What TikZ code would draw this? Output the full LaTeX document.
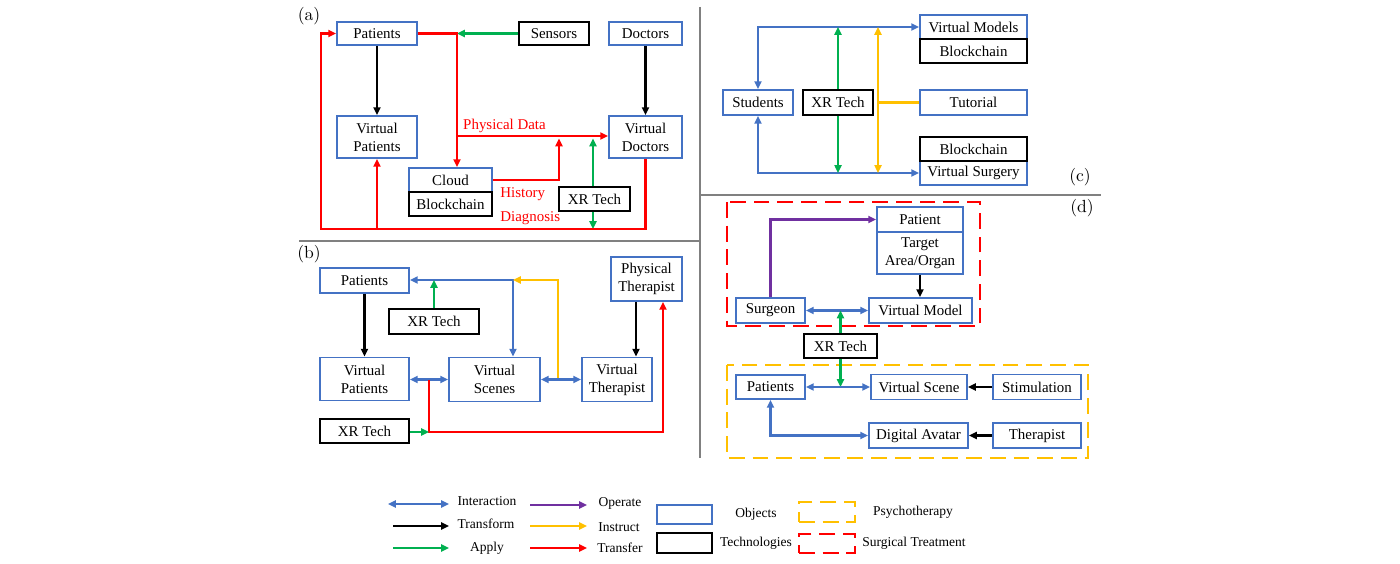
\documentclass[tikz,border=0pt]{standalone}
\usepackage{fontspec}
\setmainfont{Liberation Serif}
\usetikzlibrary{arrows.meta}
\definecolor{objBlue}{RGB}{68,114,196}
\definecolor{applyGreen}{RGB}{0,176,80}
\definecolor{instructYellow}{RGB}{255,192,0}
\definecolor{operatePurple}{RGB}{112,48,160}
\definecolor{transferRed}{RGB}{255,0,0}
\newcommand{\pxUnit}[0]{0.02cm}
\newcommand{\boxWidth}[0]{0.95pt}
\newcommand{\techWidth}[0]{1.3pt}
\newcommand{\flowWidth}[0]{1.2pt}
\newcommand{\panelTag}[1]{{\fontfamily{lmr}\fontsize{10}{12}\selectfont(#1)}}

\begin{document}
\begin{tikzpicture}[x=\pxUnit, y=-\pxUnit, font=\fontsize{8.5}{10.3}\selectfont]
  \tikzset{
    box/.style 2 args={minimum width=#1*\pxUnit, minimum height=#2*\pxUnit, inner sep=0pt, align=center},
    object/.style={draw=objBlue, line width=\boxWidth, fill=white},
    technology/.style={draw=black, line width=\techWidth, fill=white},
    flow/.style={line width=\flowWidth, >={Triangle[length=4.5pt, width=4pt]}},
    interaction/.style={flow, objBlue},
    transformation/.style={flow, black},
    application/.style={flow, applyGreen},
    instruction/.style={flow, instructYellow},
    operation/.style={flow, operatePurple},
    transfer/.style={flow, transferRed},
    note/.style={text=transferRed, inner sep=0pt},
    keyText/.style={font=\fontsize{7.7}{9}\selectfont},
    divider/.style={gray, line width=0.6pt},
    surgeryFrame/.style={draw=transferRed, line width=1.2pt, dash pattern=on 9pt off 4.5pt},
    psychoFrame/.style={draw=instructYellow, line width=1.2pt, dash pattern=on 9pt off 4.5pt}
  }
  \fill[white] (0,0) rectangle (1400,564);
  \useasboundingbox (0,0) rectangle (1400,564);

  \draw[divider] (700,7) -- (700,458);
  \draw[divider] (299,241) -- (700,241);
  \draw[divider] (700,195) -- (1101,195);

  % (a)
  \node (tag-a) at (309,16) {\panelTag{a}};
  \node[object, box={80}{23}] (Patients-a) at (377,33.5) {Patients};
  \node[technology, box={70}{23}] (Sensors-a) at (554,33.5) {Sensors};
  \node[object, box={73}{23}] (Doctors-a) at (645.5,33.5) {Doctors};
  \node[object, box={80}{42}] (VPatients-a) at (377,137) {Virtual\\Patients};
  \node[object, box={73}{42}] (VDoctors-a) at (645.5,137) {Virtual\\Doctors};
  \node[object, box={83}{24}] (Cloud-a) at (450.5,180) {Cloud};
  \node[technology, box={83}{24}] (Blockchain-a) at (450.5,204) {Blockchain};
  \node[technology, box={71}{24}] (XR-a) at (594.5,199) {XR Tech};
  \coordinate (split-a) at (457,33.5);
  \coordinate (data-a) at (457,136);
  \coordinate (history-a) at (559,138.5);
  \coordinate (xrUp-a) at (593,138.5);
  \coordinate (xrDown-a) at (593,229);
  \coordinate (loop-a) at (321,229);
  \draw[transformation, ->] (Patients-a) -- (VPatients-a);
  \draw[transformation, ->] (Doctors-a) -- (VDoctors-a);
  \draw[application, ->] (Sensors-a) -- (split-a);
  \draw[transfer, ->] (Patients-a.east) -- (split-a) -- (split-a |- Cloud-a.north);
  \draw[transfer, ->] (data-a) -- (data-a -| VDoctors-a.west);
  \draw[transfer, ->] (Cloud-a.east) -| (history-a);
  \draw[application, ->] (XR-a.north -| xrUp-a) -- (xrUp-a);
  \draw[application, ->] (XR-a.south -| xrDown-a) -- (xrDown-a);
  \draw[transfer, ->] (VDoctors-a.south) |- (loop-a) |- (Patients-a.west);
  \draw[transfer, ->] (VPatients-a.south |- loop-a) -- (VPatients-a.south);
  \node[note] (data-label-a) at (504.5,126) {Physical Data};
  \node[note, anchor=west] (history-label-a) at (500,194) {History};
  \node[note, anchor=west] (diagnosis-label-a) at (500,218) {Diagnosis};

  % (b)
  \node (tag-b) at (309,254) {\panelTag{b}};
  \node[object, box={89}{25}] (Patients-b) at (364.5,280.5) {Patients};
  \node[technology, box={90}{25}] (XR1-b) at (434,321.5) {XR Tech};
  \node[object, box={71}{44}] (PTherapist-b) at (646.5,279) {Physical\\Therapist};
  \node[object, box={89}{43}] (VPatients-b) at (364.5,379) {Virtual\\Patients};
  \node[object, box={91}{44}] (VScenes-b) at (494.5,379.5) {Virtual\\Scenes};
  \node[object, box={70}{44}] (VTherapist-b) at (617,379.5) {Virtual\\Therapist};
  \node[technology, box={89}{24}] (XR2-b) at (364.5,431) {XR Tech};
  \coordinate (hub-b) at (513,280);
  \coordinate (instruct-b) at (558,379.5);
  \coordinate (tap-b) at (429,379.5);
  \coordinate (corner-b) at (663,432);
  \coordinate (drop-b) at (636,0);
  \draw[transformation, ->] (Patients-b) -- (VPatients-b);
  \draw[transformation, ->] (PTherapist-b.south -| drop-b) -- (VTherapist-b.north -| drop-b);
  \draw[interaction, <->] (Patients-b.east |- hub-b) -- (hub-b) -- (hub-b |- VScenes-b.north);
  \draw[application, ->] (XR1-b.north) -- (XR1-b.north |- hub-b);
  \draw[instruction, ->] (instruct-b) |- (hub-b);
  \draw[interaction, <->] (VPatients-b.east |- tap-b) -- (VScenes-b.west);
  \draw[interaction, <->] (VScenes-b.east) -- (VTherapist-b.west);
  \draw[transfer, ->] (tap-b) |- (corner-b) -- (PTherapist-b.south -| corner-b);
  \draw[application, ->] (XR2-b.east |- corner-b) -- (corner-b -| tap-b);

  % (c)
  \node (tag-c) at (1080,177) {\panelTag{c}};
  \node[object, box={107}{24}] (VModels-c) at (973.5,27) {Virtual Models};
  \node[technology, box={107}{24}] (Blockchain1-c) at (973.5,51) {Blockchain};
  \node[object, box={70}{25}] (Students-c) at (758,102.5) {Students};
  \node[technology, box={70}{25}] (XR-c) at (838,102.5) {XR Tech};
  \node[object, box={107}{25}] (Tutorial-c) at (973.5,102.5) {Tutorial};
  \node[object, box={107}{24}] (VSurgery-c) at (973.5,173) {Virtual Surgery};
  \node[technology, box={107}{24}] (Blockchain2-c) at (973.5,149) {Blockchain};
  \coordinate (instruct-c) at (878,0);
  \draw[interaction, <->] (Students-c.north) |- (VModels-c.west);
  \draw[interaction, <->] (Students-c.south) |- (VSurgery-c.west);
  \draw[application, ->] (XR-c.north) -- (XR-c.north |- VModels-c.west);
  \draw[application, ->] (XR-c.south) -- (XR-c.south |- VSurgery-c.west);
  \draw[instruction, <->] (instruct-c |- VModels-c.west) -- (instruct-c |- VSurgery-c.west);
  \draw[instruction] (instruct-c |- Tutorial-c.west) -- (Tutorial-c.west);

  % (d)
  \node (tag-d) at (1082,208) {\panelTag{d}};
  \draw[surgeryFrame] (727,202) rectangle (980,326);
  \draw[psychoFrame] (727,365) rectangle (1088,458);
  \node[object, box={86}{25}] (Patient-d) at (920,219.5) {Patient};
  \node[object, box={86}{42}] (Target-d) at (920,253) {Target\\Area/Organ};
  \node[object, box={69}{25}] (Surgeon-d) at (770.5,310.5) {Surgeon};
  \node[object, box={103}{25}] (VModel-d) at (920.5,310.5) {Virtual Model};
  \node[technology, box={73}{24}] (XR-d) at (840.5,346) {XR Tech};
  \node[object, box={69}{24}] (Patients-d) at (770.5,387) {Patients};
  \node[object, box={96}{25}] (VScene-d) at (919,387) {Virtual Scene};
  \node[object, box={88}{25}] (Stimulation-d) at (1037,387) {Stimulation};
  \node[object, box={99}{25}] (Avatar-d) at (918.5,435.5) {Digital Avatar};
  \node[object, box={88}{25}] (Therapist-d) at (1037,435.5) {Therapist};
  \draw[operation, ->] (Surgeon-d.north) |- (Patient-d.west);
  \draw[transformation, ->] (Target-d.south) -- (Target-d.south |- VModel-d.north);
  \draw[interaction, <->] (Surgeon-d.east) -- (VModel-d.west);
  \draw[application, ->] (XR-d.north) -- (XR-d.north |- Surgeon-d.east);
  \draw[application, ->] (XR-d.south) -- (XR-d.south |- Patients-d.east);
  \draw[interaction, <->] (Patients-d.east) -- (VScene-d.west);
  \draw[transformation, ->] (Stimulation-d) -- (VScene-d);
  \draw[transformation, ->] (Therapist-d) -- (Avatar-d);
  \draw[interaction, <->] (Patients-d.south) |- (Avatar-d.west);

  % legend
  \node[keyText] (key-interaction) at (487,501) {Interaction};
  \node[keyText] (key-transform) at (486,524) {Transform};
  \node[keyText] (key-apply) at (487,548) {Apply};
  \node[keyText] (key-operate) at (620,503) {Operate};
  \node[keyText] (key-instruct) at (619,527) {Instruct};
  \node[keyText] (key-transfer) at (620,548) {Transfer};
  \node[object, box={55}{19}] (key-objects-box) at (684.5,514.5) {};
  \node[technology, box={55}{20}] (key-tech-box) at (684.5,543) {};
  \node[keyText] (key-objects) at (756,514) {Objects};
  \node[keyText] (key-technologies) at (756,543) {Technologies};
  \node[psychoFrame, box={56}{20}] (key-psycho-box) at (827,512) {};
  \node[surgeryFrame, box={56}{19}] (key-surgery-box) at (827,543.5) {};
  \node[keyText] (key-psycho) at (913,512) {Psychotherapy};
  \node[keyText] (key-surgery) at (914,543) {Surgical Treatment};
  \coordinate (keyA1) at (388,504); \coordinate (keyA2) at (449,504);
  \coordinate (keyB1) at (393,526); \coordinate (keyB2) at (449,526);
  \coordinate (keyC1) at (393,548); \coordinate (keyC2) at (449,548);
  \coordinate (keyD1) at (530,505); \coordinate (keyD2) at (587,505);
  \coordinate (keyE1) at (530,526); \coordinate (keyE2) at (587,526);
  \coordinate (keyF1) at (530,548); \coordinate (keyF2) at (587,548);
  \draw[interaction, <->] (keyA1) -- (keyA2);
  \draw[transformation, ->] (keyB1) -- (keyB2);
  \draw[application, ->] (keyC1) -- (keyC2);
  \draw[operation, ->] (keyD1) -- (keyD2);
  \draw[instruction, ->] (keyE1) -- (keyE2);
  \draw[transfer, ->] (keyF1) -- (keyF2);
\end{tikzpicture}
\end{document}
